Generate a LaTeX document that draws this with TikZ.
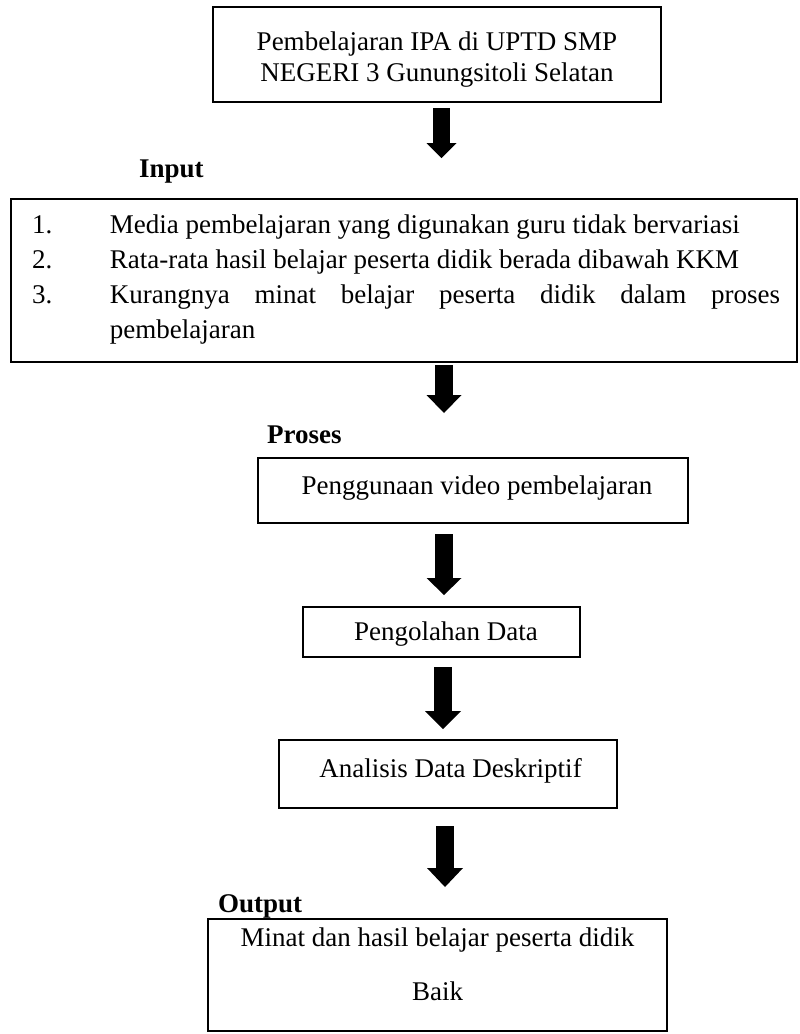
\documentclass[tikz,border=0pt]{standalone}
\usepackage{fontspec}
\setmainfont{Liberation Serif}
\usetikzlibrary{arrows.meta}
\tikzset{
  txt/.style={font=\fontsize{27pt}{35pt}\selectfont},
  flowbox/.style={draw=black, line width=1.5pt, inner sep=0pt, txt, anchor=base},
  lbl/.style={inner sep=0pt, anchor=base west, font=\fontsize{27pt}{35pt}\selectfont\bfseries},
  bigarrow/.style n args={3}{draw=black, line cap=butt, line width=#1, -{Triangle[width=#2, length=#3, line width=0pt]}},
}
\begin{document}
\begin{tikzpicture}[x=1pt,y=-1pt]
\useasboundingbox (0,0) rectangle (800,1034);

% boxes
\node[flowbox, minimum width=448pt, text height=74pt, text depth=21pt] (b1) at (437,81)
  {\parbox[b]{440pt}{\centering\baselineskip=31pt Pembelajaran IPA di UPTD SMP\\NEGERI 3 Gunungsitoli Selatan}};

\node[lbl] (lin) at (139,177) {Input};

\node[flowbox, minimum width=786pt, text height=139pt, text depth=24pt] (b2) at (404,338)
  {\parbox[b]{786pt}{\baselineskip=35pt
   \hspace*{21pt}\makebox[78pt][l]{1.}Media pembelajaran yang digunakan guru tidak bervariasi\\
   \hspace*{21pt}\makebox[78pt][l]{2.}Rata-rata hasil belajar peserta didik berada dibawah KKM\\
   \hspace*{21pt}\makebox[78pt][l]{3.}\makebox[670pt][s]{Kurangnya minat belajar peserta didik dalam proses}\\
   \hspace*{99pt}pembelajaran}};

\node[lbl] (lpr) at (267,443) {Proses};

\node[flowbox, minimum width=430pt, text height=36pt, text depth=29pt] (b3) at (473,494)
  {\hspace*{8pt}Penggunaan video pembelajaran};

\node[flowbox, minimum width=277pt, text height=33pt, text depth=17pt] (b4) at (441.5,640)
  {\hspace*{9pt}Pengolahan Data};

\node[flowbox, minimum width=338pt, text height=37pt, text depth=31pt] (b5) at (448,777)
  {\hspace*{5pt}Analisis Data Deskriptif};

\node[lbl] (lout) at (218,912) {Output};

\node[flowbox, minimum width=459pt, text height=81pt, text depth=31pt] (b6) at (437.5,1000)
  {\parbox[b]{450pt}{\centering\baselineskip=54pt Minat dan hasil belajar peserta didik\\Baik}};

% block arrows
\coordinate (a1s) at (441.5,108); \coordinate (a1e) at (441.5,158);
\coordinate (a2s) at (444,365);   \coordinate (a2e) at (444,413);
\coordinate (a3s) at (444,534);   \coordinate (a3e) at (444,595);
\coordinate (a4s) at (443,667);   \coordinate (a4e) at (443,729);
\coordinate (a5s) at (445,826);   \coordinate (a5e) at (445,887);

\draw[bigarrow={17pt}{30pt}{15pt}] (a1s) -- (a1e);
\draw[bigarrow={18pt}{35pt}{18pt}] (a2s) -- (a2e);
\draw[bigarrow={18pt}{35pt}{17pt}] (a3s) -- (a3e);
\draw[bigarrow={18pt}{36pt}{18pt}] (a4s) -- (a4e);
\draw[bigarrow={18pt}{36pt}{19pt}] (a5s) -- (a5e);
\end{tikzpicture}
\end{document}
